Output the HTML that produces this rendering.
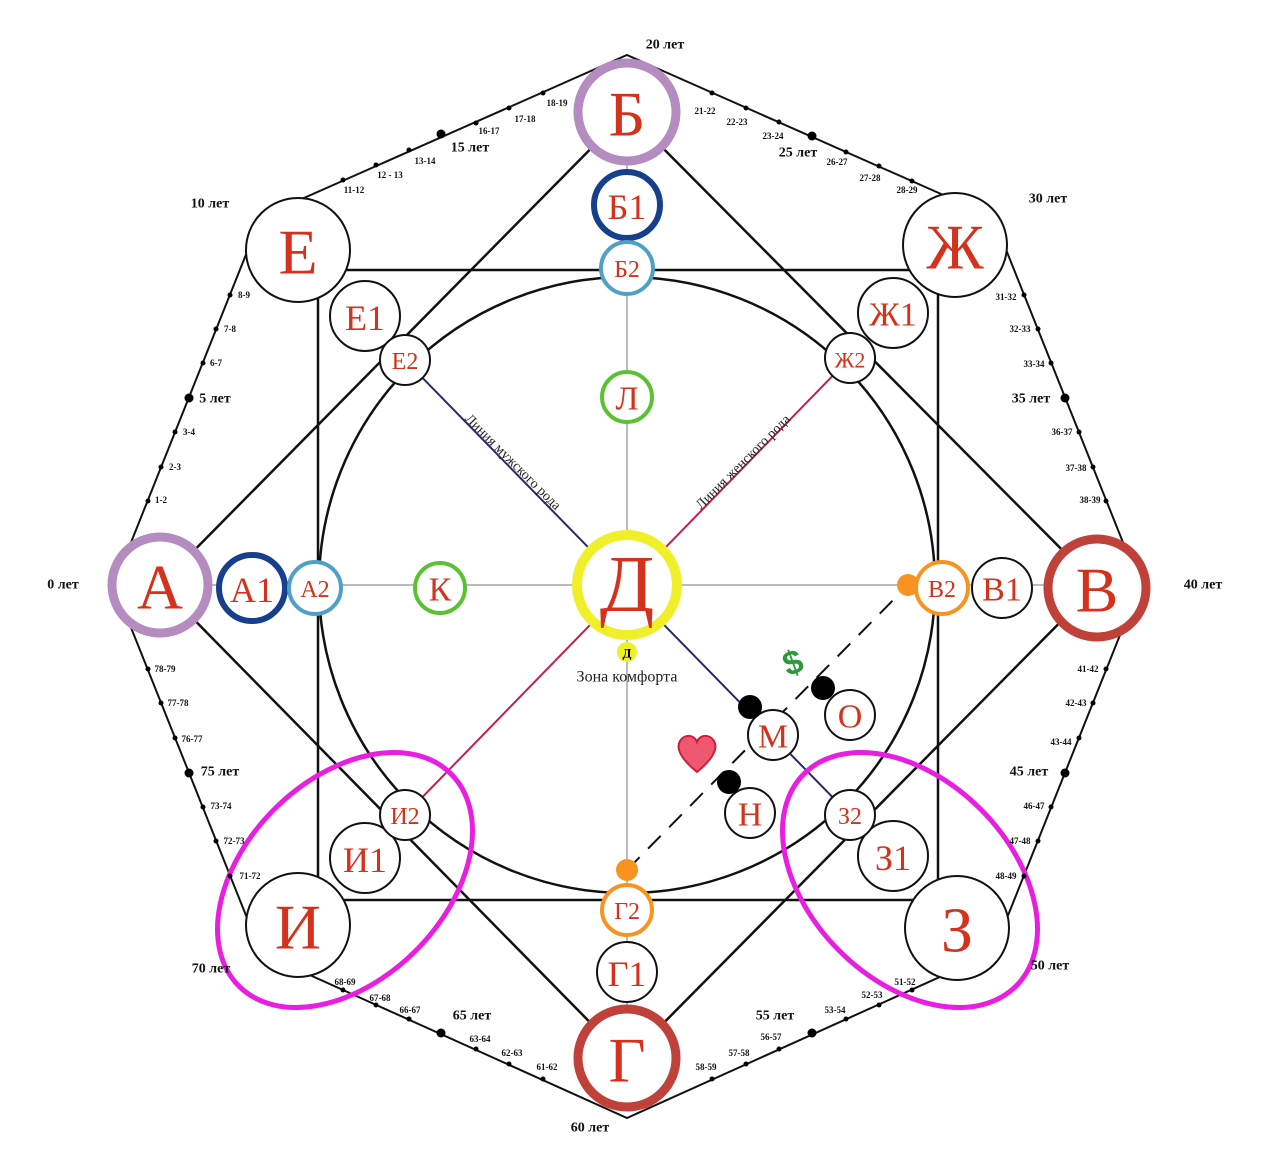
<!DOCTYPE html>
<html><head><meta charset="utf-8"><style>
html,body{margin:0;padding:0;background:#fff}
svg{display:block}
.L{font-family:"Liberation Serif",serif;fill:#d4321c;text-anchor:middle;dominant-baseline:central}
.a{font-family:"Liberation Serif",serif;font-size:9px;font-weight:bold;fill:#111;text-anchor:middle;dominant-baseline:central}
.b{font-family:"Liberation Serif",serif;font-size:14px;font-weight:bold;fill:#111;text-anchor:middle;dominant-baseline:central}
</style></head><body>
<svg width="1280" height="1169" viewBox="0 0 1280 1169" xmlns="http://www.w3.org/2000/svg">
<polygon points="627,55 993,217 1140,585 993,953 627,1118 261,953 114,585 261,217" fill="none" stroke="#111" stroke-width="2"/>
<rect x="318" y="270" width="620" height="630" fill="none" stroke="#111" stroke-width="2.5"/>
<polygon points="160,585 627,112 1097,585 627,1060" fill="none" stroke="#111" stroke-width="2.5"/>
<circle cx="627" cy="585" r="308" fill="none" stroke="#111" stroke-width="2.5"/>
<line x1="627" y1="112" x2="627" y2="1060" stroke="#777" stroke-width="1"/>
<line x1="160" y1="585" x2="1097" y2="585" stroke="#777" stroke-width="1"/>
<line x1="405" y1="360" x2="850" y2="815" stroke="#2a2a6a" stroke-width="2"/>
<line x1="850" y1="358" x2="405" y2="815" stroke="#c0204a" stroke-width="2"/>
<line x1="627" y1="870" x2="908" y2="585" stroke="#111" stroke-width="2" stroke-dasharray="18,12"/>
<circle cx="627" cy="870" r="11" fill="#f7931e"/>
<circle cx="908" cy="585" r="11" fill="#f7931e"/>
<ellipse cx="345" cy="880" rx="150" ry="100" transform="rotate(-45 345 880)" fill="none" stroke="#e81ee0" stroke-width="5"/>
<ellipse cx="910" cy="880" rx="150" ry="100" transform="rotate(45 910 880)" fill="none" stroke="#e81ee0" stroke-width="5"/>
<g fill="#fff">
<circle cx="160" cy="585" r="48" stroke="#b48cc0" stroke-width="9"/>
<circle cx="252" cy="588" r="33" stroke="#17408c" stroke-width="6"/>
<circle cx="315" cy="588" r="26" stroke="#4fa0c8" stroke-width="4"/>
<circle cx="440" cy="588" r="25" stroke="#5ac232" stroke-width="4"/>
<circle cx="627" cy="585" r="50" stroke="#f0f02a" stroke-width="10"/>
<circle cx="942" cy="588" r="26" stroke="#f7931e" stroke-width="4"/>
<circle cx="1002" cy="588" r="30" stroke="#111" stroke-width="2"/>
<circle cx="1097" cy="588" r="49" stroke="#c0413a" stroke-width="9"/>
<circle cx="627" cy="112" r="49" stroke="#b48cc0" stroke-width="9"/>
<circle cx="627" cy="205" r="33" stroke="#17408c" stroke-width="6"/>
<circle cx="627" cy="268" r="26" stroke="#4fa0c8" stroke-width="4"/>
<circle cx="627" cy="397" r="25" stroke="#5ac232" stroke-width="4"/>
<circle cx="627" cy="910" r="25" stroke="#f7931e" stroke-width="4"/>
<circle cx="627" cy="972" r="30" stroke="#111" stroke-width="2"/>
<circle cx="627" cy="1058" r="49" stroke="#c0413a" stroke-width="9"/>
<g stroke="#111" stroke-width="2">
<circle cx="298" cy="250" r="52"/><circle cx="365" cy="316" r="35"/><circle cx="405" cy="360" r="25"/>
<circle cx="955" cy="245" r="52"/><circle cx="893" cy="313" r="35"/><circle cx="850" cy="358" r="25"/>
<circle cx="298" cy="925" r="52"/><circle cx="365" cy="858" r="35"/><circle cx="405" cy="815" r="25"/>
<circle cx="957" cy="928" r="52"/><circle cx="893" cy="856" r="35"/><circle cx="850" cy="815" r="25"/>
<circle cx="773" cy="735" r="25"/><circle cx="850" cy="715" r="25"/><circle cx="750" cy="813" r="25"/>
</g>
</g>
<circle cx="627" cy="652" r="10" fill="#f0f02a"/>
<circle cx="750" cy="707" r="12" fill="#000"/>
<circle cx="823" cy="688" r="12" fill="#000"/>
<circle cx="729" cy="782" r="12" fill="#000"/>
<g class="L">
<text x="160" y="587" font-size="64">А</text>
<text x="252" y="590" font-size="36">А1</text>
<text x="315" y="590" font-size="24">А2</text>
<text x="440" y="590" font-size="34">К</text>
<text x="627" y="585" font-size="80">Д</text>
<text x="942" y="590" font-size="24">В2</text>
<text x="1002" y="590" font-size="34">В1</text>
<text x="1097" y="590" font-size="64">В</text>
<text x="627" y="114" font-size="64">Б</text>
<text x="627" y="207" font-size="36">Б1</text>
<text x="627" y="270" font-size="24">Б2</text>
<text x="627" y="399" font-size="34">Л</text>
<text x="627" y="912" font-size="24">Г2</text>
<text x="627" y="974" font-size="36">Г1</text>
<text x="627" y="1060" font-size="64">Г</text>
<text x="298" y="252" font-size="64">Е</text>
<text x="365" y="318" font-size="36">Е1</text>
<text x="405" y="362" font-size="24">Е2</text>
<text x="955" y="247" font-size="64">Ж</text>
<text x="893" y="315" font-size="34">Ж1</text>
<text x="850" y="360" font-size="22">Ж2</text>
<text x="298" y="927" font-size="64">И</text>
<text x="365" y="860" font-size="36">И1</text>
<text x="405" y="817" font-size="24">И2</text>
<text x="957" y="930" font-size="64">З</text>
<text x="893" y="858" font-size="36">З1</text>
<text x="850" y="817" font-size="24">З2</text>
<text x="773" y="737" font-size="34">М</text>
<text x="850" y="717" font-size="34">О</text>
<text x="750" y="815" font-size="34">Н</text>
</g>
<text x="627" y="653" font-family="Liberation Serif,serif" font-size="13" font-weight="bold" text-anchor="middle" dominant-baseline="central">Д</text>
<text x="627" y="677" font-family="Liberation Serif,serif" font-size="16" text-anchor="middle" dominant-baseline="central" fill="#222">Зона комфорта</text>
<text transform="translate(510,465) rotate(45)" font-family="Liberation Serif,serif" font-size="14" text-anchor="middle" fill="#222">Линия мужского рода</text>
<text transform="translate(746,465) rotate(-45)" font-family="Liberation Serif,serif" font-size="14" text-anchor="middle" fill="#222">Линия женского рода</text>
<text x="793" y="663" font-family="Liberation Sans,sans-serif" font-size="34" font-weight="bold" fill="#2a9a3a" text-anchor="middle" dominant-baseline="central" transform="rotate(-20 793 663)">$</text>
<path d="M697,772 C680,758 676,748 680,741 C684,734 694,734 697,742 C700,734 710,734 714,741 C718,748 714,758 697,772 Z" fill="#ef5670" stroke="#c8203c" stroke-width="2"/>
<g fill="#000">
<circle cx="441" cy="134" r="4.5"/><circle cx="812" cy="136" r="4.5"/>
<circle cx="189" cy="398" r="4.5"/><circle cx="1065" cy="398" r="4.5"/>
<circle cx="189" cy="773" r="4.5"/><circle cx="1065" cy="773" r="4.5"/>
<circle cx="441" cy="1033" r="4.5"/><circle cx="812" cy="1033" r="4.5"/>
<circle cx="543" cy="93" r="2.5"/><circle cx="509" cy="108" r="2.5"/><circle cx="476" cy="123" r="2.5"/><circle cx="409" cy="150" r="2.5"/><circle cx="376" cy="165" r="2.5"/><circle cx="343" cy="180" r="2.5"/>
<circle cx="712" cy="93" r="2.5"/><circle cx="746" cy="108" r="2.5"/><circle cx="779" cy="122" r="2.5"/><circle cx="846" cy="152" r="2.5"/><circle cx="879" cy="166" r="2.5"/><circle cx="912" cy="181" r="2.5"/>
<circle cx="230" cy="295" r="2.5"/><circle cx="216" cy="329" r="2.5"/><circle cx="203" cy="363" r="2.5"/><circle cx="175" cy="432" r="2.5"/><circle cx="161" cy="467" r="2.5"/><circle cx="148" cy="501" r="2.5"/>
<circle cx="1024" cy="295" r="2.5"/><circle cx="1038" cy="329" r="2.5"/><circle cx="1051" cy="363" r="2.5"/><circle cx="1079" cy="432" r="2.5"/><circle cx="1093" cy="467" r="2.5"/><circle cx="1106" cy="501" r="2.5"/>
<circle cx="148" cy="669" r="2.5"/><circle cx="161" cy="703" r="2.5"/><circle cx="175" cy="738" r="2.5"/><circle cx="203" cy="807" r="2.5"/><circle cx="216" cy="841" r="2.5"/><circle cx="230" cy="876" r="2.5"/>
<circle cx="1106" cy="669" r="2.5"/><circle cx="1093" cy="703" r="2.5"/><circle cx="1079" cy="738" r="2.5"/><circle cx="1051" cy="807" r="2.5"/><circle cx="1038" cy="841" r="2.5"/><circle cx="1024" cy="876" r="2.5"/>
<circle cx="343" cy="990" r="2.5"/><circle cx="376" cy="1005" r="2.5"/><circle cx="409" cy="1019" r="2.5"/><circle cx="476" cy="1049" r="2.5"/><circle cx="509" cy="1064" r="2.5"/><circle cx="543" cy="1079" r="2.5"/>
<circle cx="912" cy="990" r="2.5"/><circle cx="879" cy="1005" r="2.5"/><circle cx="846" cy="1019" r="2.5"/><circle cx="779" cy="1049" r="2.5"/><circle cx="746" cy="1064" r="2.5"/><circle cx="712" cy="1079" r="2.5"/>
</g>
<g class="a">
<text x="557" y="103">18-19</text><text x="525" y="119">17-18</text><text x="489" y="131">16-17</text><text x="425" y="161">13-14</text><text x="390" y="175">12 - 13</text><text x="354" y="190">11-12</text>
<text x="705" y="111">21-22</text><text x="737" y="122">22-23</text><text x="773" y="136">23-24</text><text x="837" y="162">26-27</text><text x="870" y="178">27-28</text><text x="907" y="190">28-29</text>
<text x="244" y="295">8-9</text><text x="230" y="329">7-8</text><text x="216" y="363">6-7</text><text x="189" y="432">3-4</text><text x="175" y="467">2-3</text><text x="161" y="500">1-2</text>
<text x="1006" y="297">31-32</text><text x="1020" y="329">32-33</text><text x="1034" y="364">33-34</text><text x="1062" y="432">36-37</text><text x="1076" y="468">37-38</text><text x="1090" y="500">38-39</text>
<text x="165" y="669">78-79</text><text x="178" y="703">77-78</text><text x="192" y="739">76-77</text><text x="221" y="806">73-74</text><text x="234" y="841">72-73</text><text x="250" y="876">71-72</text>
<text x="1088" y="669">41-42</text><text x="1076" y="703">42-43</text><text x="1061" y="742">43-44</text><text x="1034" y="806">46-47</text><text x="1020" y="841">47-48</text><text x="1006" y="876">48-49</text>
<text x="345" y="982">68-69</text><text x="380" y="998">67-68</text><text x="410" y="1010">66-67</text><text x="480" y="1039">63-64</text><text x="512" y="1053">62-63</text><text x="547" y="1067">61-62</text>
<text x="905" y="982">51-52</text><text x="872" y="995">52-53</text><text x="835" y="1010">53-54</text><text x="771" y="1037">56-57</text><text x="739" y="1053">57-58</text><text x="706" y="1067">58-59</text>
</g>
<g class="b">
<text x="665" y="45">20 лет</text><text x="470" y="148">15 лет</text><text x="798" y="153">25 лет</text>
<text x="210" y="204">10 лет</text><text x="1048" y="199">30 лет</text>
<text x="215" y="399">5 лет</text><text x="1031" y="399">35 лет</text>
<text x="63" y="585">0 лет</text><text x="1203" y="585">40 лет</text>
<text x="220" y="772">75 лет</text><text x="1029" y="772">45 лет</text>
<text x="211" y="969">70 лет</text><text x="1050" y="966">50 лет</text>
<text x="472" y="1016">65 лет</text><text x="775" y="1016">55 лет</text>
<text x="590" y="1128">60 лет</text>
</g>
</svg>
</body></html>
